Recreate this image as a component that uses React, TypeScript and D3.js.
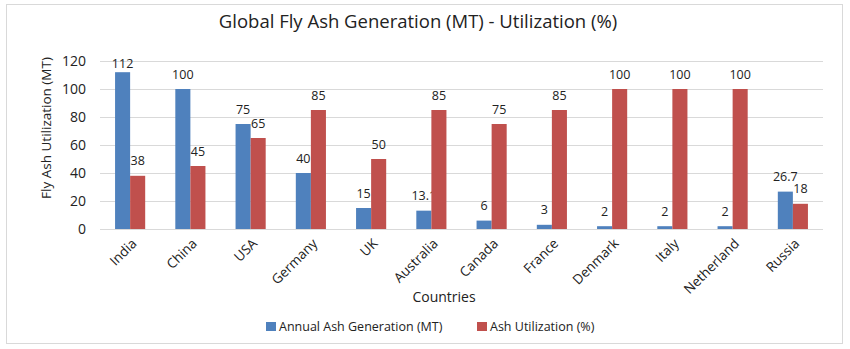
import React from "react";
import * as d3 from "d3";

const countries = ["India", "China", "USA", "Germany", "UK", "Australia", "Canada", "France", "Denmark", "Italy", "Netherland", "Russia"];
const generation = [112, 100, 75, 40, 15, 13.1, 6, 3, 2, 2, 2, 26.7];
const utilization = [38, 45, 65, 85, 50, 85, 75, 85, 100, 100, 100, 18];
const seriesNames = ["Annual Ash Generation (MT)", "Ash Utilization (%)"];
const seriesColors = ["#4F81BD", "#C0504D"];
const yTicks = [0, 20, 40, 60, 80, 100, 120];

const W = 850;
const H = 349;
const FONT = "'Open Sans', 'Noto Sans', sans-serif";

export default function App() {
  const x0 = d3.scaleBand<string>().domain(countries).range([100, 823]).paddingInner(0).paddingOuter(0);
  const bw = x0.bandwidth();
  const x1 = d3.scaleBand<number>().domain([0, 1]).range([bw * 0.25, bw * 0.75]).padding(0);
  const y = d3.scaleLinear().domain([0, 120]).range([229, 61]);
  const series = [generation, utilization];
  const fmt = (v: number) => (Number.isInteger(v) ? String(v) : v.toFixed(1));

  return (
    <svg width={W} height={H} style={{ position: "absolute", left: 0, top: 0, background: "#fff" }} fontFamily={FONT}>
      <rect x={0} y={0} width={W} height={H} fill="#fff" />
      <rect x={6.5} y={4.5} width={836} height={339} fill="#fff" stroke="#D9D9D9" strokeWidth={1} />
      <text x={418} y={28} textAnchor="middle" fontSize={18.5} fill="#222">
        Global Fly Ash Generation (MT) - Utilization (%)
      </text>
      {yTicks.map((t) => (
        <g key={t}>
          <line x1={100} x2={823} y1={Math.round(y(t)) + 0.5} y2={Math.round(y(t)) + 0.5} stroke="#D9D9D9" strokeWidth={1} />
          <text x={86} y={y(t) + 5} textAnchor="end" fontSize={14} fill="#222">
            {t}
          </text>
        </g>
      ))}
      <text transform={`translate(51,128) rotate(-90)`} textAnchor="middle" fontSize={13.5} fill="#222">
        Fly Ash Utilization (MT)
      </text>
      {countries.map((c, i) => (
        <g key={c} transform={`translate(${x0(c)},0)`}>
          {series.map((s, k) => {
            const v = s[i];
            const bx = x1(k)!;
            const top = y(v);
            const ly = Math.max(top - 10.5, 68);
            return (
              <g key={k}>
                <rect x={bx} y={top} width={x1.bandwidth()} height={y(0) - top} fill={seriesColors[k]} />
                <text x={bx + x1.bandwidth() / 2} y={ly} textAnchor="middle" fontSize={12.5} fill="#222">
                  {fmt(v)}
                </text>
              </g>
            );
          })}
          <text
            transform={`translate(${bw / 2 + 4},241) rotate(-45)`}
            textAnchor="end"
            fontSize={13.5}
            fill="#222"
            dy="0.35em"
          >
            {c}
          </text>
        </g>
      ))}
      <text x={444} y={302} textAnchor="middle" fontSize={14} fill="#222">
        Countries
      </text>
      <g>
        <rect x={266} y={322} width={10} height={9} fill={seriesColors[0]} />
        <text x={279} y={331} fontSize={12.5} fill="#222">{seriesNames[0]}</text>
        <rect x={477} y={322} width={10} height={9} fill={seriesColors[1]} />
        <text x={490} y={331} fontSize={12.5} fill="#222">{seriesNames[1]}</text>
      </g>
    </svg>
  );
}
